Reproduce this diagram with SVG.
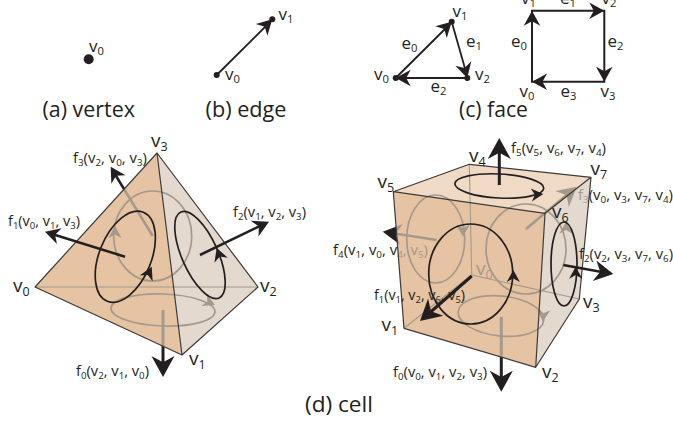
<svg xmlns="http://www.w3.org/2000/svg" width="673" height="421" viewBox="0 0 673 421">
<style>
text{font-family:"Open Sans","Noto Sans","Liberation Sans",sans-serif;fill:#231f20}
.c{font-size:21px}
.v{font-size:19px}
.e{font-size:17px}
.f{font-size:14.5px}
.s{font-size:.66em}
.l{stroke:#231f20;fill:none}
.o{stroke:#231f20;fill:none;stroke-width:1.7}
.edge{stroke:#3c3a38;fill:none;stroke-width:1.2;stroke-linejoin:round}
.h{fill:#231f20}
.bo{stroke:currentColor;fill:none;stroke-width:1.7}
.bl{stroke:currentColor;fill:none;stroke-width:2.5}
.be{stroke:currentColor;fill:none;stroke-width:1.1}
.bh,.bt{fill:currentColor}
.ff{fill:#e6c3a3}
.fr{fill:#e3d9cf}
.ft{fill:#f0d9c5}
</style>
<defs>
<path id="h" d="M0 0L-10 -5.5L-7 0L-10 5.5Z"/>
<clipPath id="tc"><path d="M157 153L35 287L182 355L258 287Z"/></clipPath>
<clipPath id="cc"><path d="M393.3 191.7L469.3 164.3L591 177.3L579.3 299L535.7 367.3L404 328.3Z"/></clipPath>
<g id="tetra-hidden">
<line class="be" x1="35" y1="287" x2="258" y2="287"/>
<ellipse class="bo" cx="152.7" cy="236" rx="39" ry="45"/>
<ellipse class="bo" cx="163" cy="310" rx="52" ry="16" transform="rotate(2 163 310)"/>
<use href="#h" class="bh" transform="translate(115,226) rotate(-90) scale(1.2)"/>
<use href="#h" class="bh" transform="translate(215,305) rotate(25) scale(1.2)"/>
<line class="bl" x1="152.7" y1="236" x2="113" y2="171"/>
<use href="#h" class="bh" transform="translate(110.7,166.7) rotate(-121) scale(1.5)"/>
<line class="bl" style="stroke-width:3" x1="163" y1="310" x2="163" y2="368"/>
<use href="#h" class="bh" transform="translate(163,377) rotate(90) scale(2.1)"/>
</g>
<g id="cube-hidden">
<path class="be" d="M469.3 164.3L471.7 275L404 328.3M471.7 275L579.3 299"/>
<ellipse class="bo" cx="526" cy="249" rx="40" ry="45"/>
<ellipse class="bo" cx="435.7" cy="239" rx="29" ry="44"/>
<ellipse class="bo" cx="501" cy="316" rx="43" ry="20" transform="rotate(6 501 316)"/>
<use href="#h" class="bh" transform="translate(463,236.7) rotate(90) scale(1.2)"/>
<use href="#h" class="bh" transform="translate(542.7,321.7) rotate(95) scale(1.2)"/>
<use href="#h" class="bh" transform="translate(566,221.7) rotate(-90) scale(1.2)"/>
<line class="bl" x1="526" y1="229" x2="572" y2="190.5"/>
<use href="#h" class="bh" transform="translate(576.7,186.7) rotate(-40) scale(1.9)"/>
<line class="bl" x1="436.7" y1="240" x2="392" y2="233"/>
<use href="#h" class="bh" transform="translate(382.7,231.7) rotate(188) scale(1.9)"/>
<line class="bl" style="stroke-width:3" x1="501.3" y1="316.7" x2="501.3" y2="384"/>
<use href="#h" class="bh" transform="translate(501.3,391.7) rotate(90) scale(2.1)"/>
<text class="f bt" x="578" y="200" textLength="95" lengthAdjust="spacingAndGlyphs">f<tspan class="s" dy="3">3</tspan><tspan dy="-3">(v</tspan><tspan class="s" dy="3">0</tspan><tspan dy="-3">, v</tspan><tspan class="s" dy="3">3</tspan><tspan dy="-3">, v</tspan><tspan class="s" dy="3">7</tspan><tspan dy="-3">, v</tspan><tspan class="s" dy="3">4</tspan><tspan dy="-3">)</tspan></text>
<text class="f bt" x="333" y="255" textLength="95" lengthAdjust="spacingAndGlyphs">f<tspan class="s" dy="3">4</tspan><tspan dy="-3">(v</tspan><tspan class="s" dy="3">1</tspan><tspan dy="-3">, v</tspan><tspan class="s" dy="3">0</tspan><tspan dy="-3">, v</tspan><tspan class="s" dy="3">4</tspan><tspan dy="-3">, v</tspan><tspan class="s" dy="3">5</tspan><tspan dy="-3">)</tspan></text>
<text class="v bt" x="476" y="275">v<tspan class="s" dy="3.5">0</tspan></text>
</g>
</defs>

<g id="vertex">
<circle cx="88.7" cy="59.3" r="5" class="h"/>
<text class="e" x="89" y="52">v<tspan class="s" dy="3">0</tspan></text>
<text class="c" x="42.5" y="116.5" textLength="92.5" lengthAdjust="spacingAndGlyphs">(a) vertex</text>
</g>

<g id="edge">
<line class="l" stroke-width="1.8" x1="216.7" y1="75" x2="268" y2="24"/>
<use href="#h" class="h" transform="translate(272.3,19.3) rotate(-44.5) scale(1.5)"/>
<circle cx="216.7" cy="75" r="3" class="h"/>
<circle cx="272.3" cy="19.3" r="3" class="h"/>
<text class="e" x="278.5" y="20">v<tspan class="s" dy="3">1</tspan></text>
<text class="e" x="225" y="80">v<tspan class="s" dy="3">0</tspan></text>
<text class="c" x="205.5" y="116.5" textLength="81" lengthAdjust="spacingAndGlyphs">(b) edge</text>
</g>

<g id="face-triangle">
<path class="l" stroke-width="1.8" d="M395.7 78L448 26M451.7 21.7L466 72M467.3 78H402"/>
<use href="#h" class="h" transform="translate(451.7,21.7) rotate(-44.5) scale(1.5)"/>
<use href="#h" class="h" transform="translate(467.3,78) rotate(74.5) scale(1.5)"/>
<use href="#h" class="h" transform="translate(395.7,78) rotate(180) scale(1.5)"/>
<circle cx="395.7" cy="78" r="3" class="h"/>
<circle cx="451.7" cy="21.7" r="3" class="h"/>
<circle cx="467.3" cy="78" r="3" class="h"/>
<text class="e" x="452.5" y="17">v<tspan class="s" dy="3">1</tspan></text>
<text class="e" x="374" y="79.5">v<tspan class="s" dy="3">0</tspan></text>
<text class="e" x="475" y="79.5">v<tspan class="s" dy="3">2</tspan></text>
<text class="e" x="401.5" y="48.5">e<tspan class="s" dy="3">0</tspan></text>
<text class="e" x="466" y="47">e<tspan class="s" dy="3">1</tspan></text>
<text class="e" x="430.5" y="92">e<tspan class="s" dy="3">2</tspan></text>
</g>

<g id="face-square">
<path class="l" stroke-width="2" d="M532 81.7H604.3V10.7H532Z"/>
<use href="#h" class="h" transform="translate(532,10.7) rotate(-90) scale(1.5)"/>
<use href="#h" class="h" transform="translate(604.3,10.7) scale(1.5)"/>
<use href="#h" class="h" transform="translate(604.3,81.7) rotate(90) scale(1.5)"/>
<use href="#h" class="h" transform="translate(532,81.7) rotate(180) scale(1.5)"/>
<text class="e" x="521" y="4">v<tspan class="s" dy="3">1</tspan></text>
<text class="e" x="560" y="3.5">e<tspan class="s" dy="3">1</tspan></text>
<text class="e" x="601.5" y="3.5">v<tspan class="s" dy="3">2</tspan></text>
<text class="e" x="511" y="47">e<tspan class="s" dy="3">0</tspan></text>
<text class="e" x="607.5" y="47">e<tspan class="s" dy="3">2</tspan></text>
<text class="e" x="519.5" y="97">v<tspan class="s" dy="3">0</tspan></text>
<text class="e" x="560.5" y="97">e<tspan class="s" dy="3">3</tspan></text>
<text class="e" x="600.5" y="97">v<tspan class="s" dy="3">3</tspan></text>
<text class="c" x="459" y="116.5" textLength="69" lengthAdjust="spacingAndGlyphs">(c) face</text>
</g>

<g id="tetrahedron">
<use href="#tetra-hidden" style="color:#231f20"/>
<path class="ff" d="M157 153L35 287L182 355Z"/>
<path class="fr" d="M157 153L258 287L182 355Z"/>
<use href="#tetra-hidden" style="color:#a4998c" clip-path="url(#tc)"/>
<path class="edge" d="M157 153L35 287L182 355L258 287ZM157 153L182 355"/>
<g id="tetra-front">
<ellipse class="o" cx="125.3" cy="256.7" rx="26" ry="48" transform="rotate(22 125.3 256.7)"/>
<ellipse class="o" cx="200" cy="255" rx="18" ry="47" transform="rotate(-24 200 255)"/>
<use href="#h" class="h" transform="translate(151.7,266.7) rotate(-65) scale(1.3)"/>
<use href="#h" class="h" transform="translate(216.7,248) rotate(-110) scale(1.3)"/>
<line class="l" stroke-width="2.5" x1="125" y1="256.7" x2="52" y2="234"/>
<use href="#h" class="h" transform="translate(45,231.7) rotate(197) scale(1.5)"/>
<line class="l" stroke-width="2.5" x1="200" y1="255" x2="262" y2="225"/>
<use href="#h" class="h" transform="translate(269,221.7) rotate(-26) scale(1.6)"/>
</g>
<text class="v" x="151" y="147">v<tspan class="s" dy="3.5">3</tspan></text>
<text class="v" x="13" y="292">v<tspan class="s" dy="3.5">0</tspan></text>
<text class="v" x="260" y="292">v<tspan class="s" dy="3.5">2</tspan></text>
<text class="v" x="189" y="365">v<tspan class="s" dy="3.5">1</tspan></text>
<text class="f" x="73" y="163" textLength="74" lengthAdjust="spacingAndGlyphs">f<tspan class="s" dy="3">3</tspan><tspan dy="-3">(v</tspan><tspan class="s" dy="3">2</tspan><tspan dy="-3">, v</tspan><tspan class="s" dy="3">0</tspan><tspan dy="-3">, v</tspan><tspan class="s" dy="3">3</tspan><tspan dy="-3">)</tspan></text>
<text class="f" x="8" y="226" textLength="72" lengthAdjust="spacingAndGlyphs">f<tspan class="s" dy="3">1</tspan><tspan dy="-3">(v</tspan><tspan class="s" dy="3">0</tspan><tspan dy="-3">, v</tspan><tspan class="s" dy="3">1</tspan><tspan dy="-3">, v</tspan><tspan class="s" dy="3">3</tspan><tspan dy="-3">)</tspan></text>
<text class="f" x="233" y="217" textLength="73" lengthAdjust="spacingAndGlyphs">f<tspan class="s" dy="3">2</tspan><tspan dy="-3">(v</tspan><tspan class="s" dy="3">1</tspan><tspan dy="-3">, v</tspan><tspan class="s" dy="3">2</tspan><tspan dy="-3">, v</tspan><tspan class="s" dy="3">3</tspan><tspan dy="-3">)</tspan></text>
<text class="f" x="76" y="376" textLength="73" lengthAdjust="spacingAndGlyphs">f<tspan class="s" dy="3">0</tspan><tspan dy="-3">(v</tspan><tspan class="s" dy="3">2</tspan><tspan dy="-3">, v</tspan><tspan class="s" dy="3">1</tspan><tspan dy="-3">, v</tspan><tspan class="s" dy="3">0</tspan><tspan dy="-3">)</tspan></text>
</g>

<g id="cube">
<use href="#cube-hidden" style="color:#231f20"/>
<path class="ft" d="M393.3 191.7L469.3 164.3L591 177.3L545 213.3Z"/>
<path class="ff" d="M393.3 191.7L545 213.3L535.7 367.3L404 328.3Z"/>
<path class="fr" d="M545 213.3L591 177.3L579.3 299L535.7 367.3Z"/>
<use href="#cube-hidden" style="color:#a4998c" clip-path="url(#cc)"/>
<path class="edge" d="M393.3 191.7L469.3 164.3L591 177.3L579.3 299L535.7 367.3L404 328.3ZM393.3 191.7L545 213.3L591 177.3M545 213.3L535.7 367.3"/>
<g id="cube-front">
<ellipse class="o" cx="470.7" cy="274" rx="42" ry="50"/>
<ellipse class="o" cx="499.3" cy="186" rx="44.5" ry="12" transform="rotate(3 499.3 186)"/>
<ellipse class="o" cx="564" cy="264" rx="13" ry="42"/>
<use href="#h" class="h" transform="translate(543.3,194) rotate(-5) scale(1.2)"/>
<use href="#h" class="h" transform="translate(513.3,270) rotate(-90) scale(1.2)"/>
<use href="#h" class="h" transform="translate(575.7,266.7) rotate(-90) scale(1.2)"/>
<line class="l" stroke-width="3" x1="499.3" y1="185" x2="499.3" y2="146"/>
<use href="#h" class="h" transform="translate(499.3,138) rotate(-90) scale(2.1)"/>
<line class="l" stroke-width="3" x1="471.7" y1="276" x2="426" y2="316"/>
<use href="#h" class="h" transform="translate(420,321) rotate(138.5) scale(2.1)"/>
<line class="l" stroke-width="2.5" x1="563.3" y1="265" x2="606" y2="272.7"/>
<use href="#h" class="h" transform="translate(613.3,274) rotate(10) scale(1.9)"/>
</g>
<text class="v" x="469" y="162">v<tspan class="s" dy="3.5">4</tspan></text>
<text class="v" x="377.5" y="188">v<tspan class="s" dy="3.5">5</tspan></text>
<text class="v" x="590.5" y="175">v<tspan class="s" dy="3.5">7</tspan></text>
<text class="v" x="552" y="218">v<tspan class="s" dy="3.5">6</tspan></text>
<text class="v" x="583" y="308">v<tspan class="s" dy="3.5">3</tspan></text>
<text class="v" x="381.5" y="331">v<tspan class="s" dy="3.5">1</tspan></text>
<text class="v" x="542" y="378">v<tspan class="s" dy="3.5">2</tspan></text>
<text class="f" x="511" y="153" textLength="95" lengthAdjust="spacingAndGlyphs">f<tspan class="s" dy="3">5</tspan><tspan dy="-3">(v</tspan><tspan class="s" dy="3">5</tspan><tspan dy="-3">, v</tspan><tspan class="s" dy="3">6</tspan><tspan dy="-3">, v</tspan><tspan class="s" dy="3">7</tspan><tspan dy="-3">, v</tspan><tspan class="s" dy="3">4</tspan><tspan dy="-3">)</tspan></text>
<text class="f" x="579" y="259" textLength="94" lengthAdjust="spacingAndGlyphs">f<tspan class="s" dy="3">2</tspan><tspan dy="-3">(v</tspan><tspan class="s" dy="3">2</tspan><tspan dy="-3">, v</tspan><tspan class="s" dy="3">3</tspan><tspan dy="-3">, v</tspan><tspan class="s" dy="3">7</tspan><tspan dy="-3">, v</tspan><tspan class="s" dy="3">6</tspan><tspan dy="-3">)</tspan></text>
<text class="f" x="374" y="300" textLength="91" lengthAdjust="spacingAndGlyphs">f<tspan class="s" dy="3">1</tspan><tspan dy="-3">(v</tspan><tspan class="s" dy="3">1</tspan><tspan dy="-3">, v</tspan><tspan class="s" dy="3">2</tspan><tspan dy="-3">, v</tspan><tspan class="s" dy="3">6</tspan><tspan dy="-3">, v</tspan><tspan class="s" dy="3">5</tspan><tspan dy="-3">)</tspan></text>
<text class="f" x="393" y="377" textLength="94" lengthAdjust="spacingAndGlyphs">f<tspan class="s" dy="3">0</tspan><tspan dy="-3">(v</tspan><tspan class="s" dy="3">0</tspan><tspan dy="-3">, v</tspan><tspan class="s" dy="3">1</tspan><tspan dy="-3">, v</tspan><tspan class="s" dy="3">2</tspan><tspan dy="-3">, v</tspan><tspan class="s" dy="3">3</tspan><tspan dy="-3">)</tspan></text>
</g>
<text class="c" x="305" y="412" textLength="68" lengthAdjust="spacingAndGlyphs">(d) cell</text>
</svg>
